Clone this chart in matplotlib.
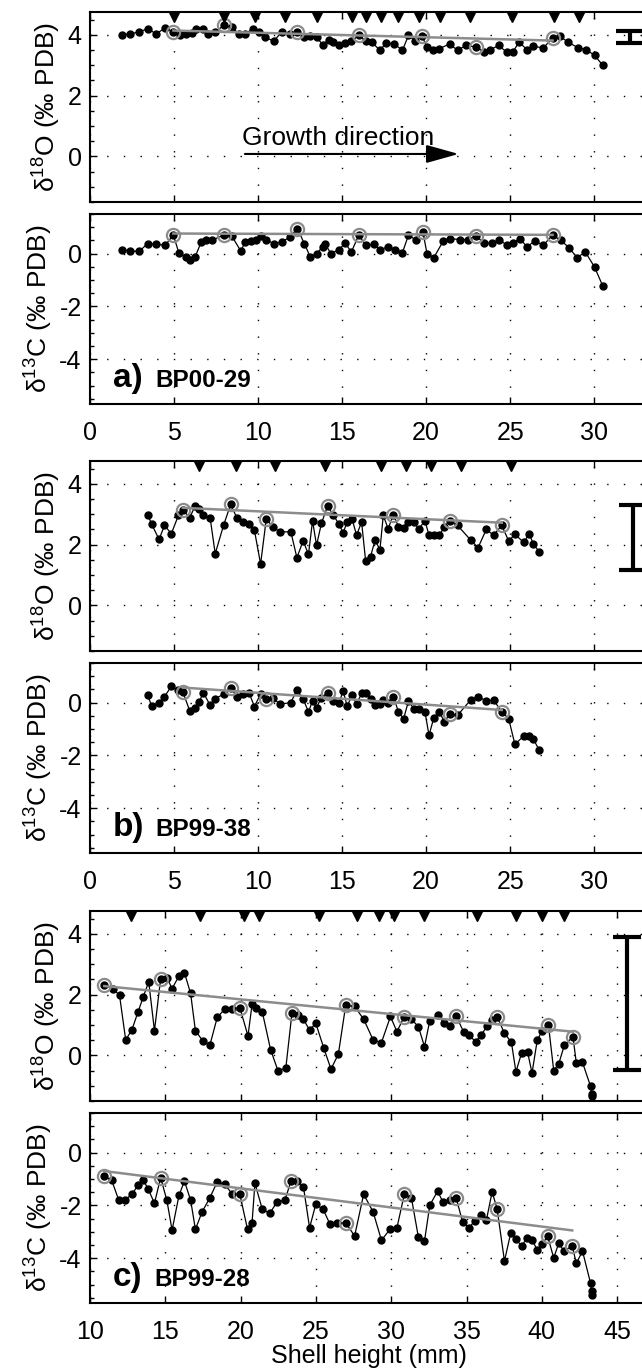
import numpy as np
import matplotlib
matplotlib.use('Agg')
import matplotlib.pyplot as plt
from matplotlib.ticker import MultipleLocator

plt.rcParams['font.family'] = ['Liberation Sans', 'DejaVu Sans']
plt.rcParams['mathtext.fontset'] = 'custom'
plt.rcParams['mathtext.rm'] = 'Liberation Sans'
plt.rcParams['axes.unicode_minus'] = False

# ---- данные: a) BP00-29 ----
a_o_x = [1.92, 2.36, 2.9, 3.43, 3.94, 4.48, 4.96, 5.33, 5.69, 6.06, 6.3, 6.72, 7.03, 7.45, 7.96,
         8.44, 8.86, 9.22, 9.71, 10.07, 10.44, 10.92, 11.41, 11.9, 12.34, 12.75, 13.11, 13.48,
         13.84, 14.21, 14.45, 14.82, 15.18, 15.55, 15.99, 16.4, 16.76, 17.25, 17.62, 18.1, 18.59,
         18.95, 19.32, 19.76, 20.05, 20.41, 20.78, 21.39, 21.87, 22.36, 22.97, 23.45, 23.82, 24.31,
         24.79, 25.16, 25.52, 26.01, 26.38, 26.98, 27.52, 27.96, 28.44, 29.05, 29.54, 30.02, 30.51]
a_o_y = [4.0, 4.03, 4.09, 4.2, 4.03, 4.23, 4.09, 4.0, 4.01, 4.05, 4.2, 4.2, 4.03, 4.09, 4.31,
         4.25, 4.03, 4.03, 4.2, 4.09, 3.92, 3.79, 4.09, 4.03, 4.09, 3.92, 3.95, 3.92,
         3.68, 3.84, 3.76, 3.65, 3.73, 3.79, 3.98, 3.79, 3.76, 3.49, 3.73, 3.7, 3.49,
         3.98, 3.81, 3.95, 3.6, 3.49, 3.54, 3.7, 3.49, 3.65, 3.6, 3.43, 3.51, 3.65,
         3.43, 3.43, 3.76, 3.51, 3.62, 3.57, 3.9, 3.95, 3.76, 3.57, 3.51, 3.32, 3.0]
a_c_x = [1.92, 2.4, 2.94, 3.43, 3.94, 4.48, 4.96, 5.28, 5.69, 5.96, 6.25, 6.62, 6.91, 7.27, 7.96,
         8.44, 8.98, 9.22, 9.59, 9.88, 10.19, 10.49, 10.92, 11.41, 11.9, 12.34, 12.75, 13.11,
         13.48, 13.84, 14.01, 14.33, 14.82, 15.18, 15.55, 15.99, 16.4, 16.89, 17.25, 17.74, 18.17,
         18.59, 18.95, 19.39, 19.81, 20.05, 20.46, 21.02, 21.39, 22.0, 22.48, 22.97, 23.45, 23.94,
         24.36, 24.79, 25.16, 25.57, 26.01, 26.45, 26.98, 27.52, 28.0, 28.49, 28.98, 29.47, 30.02, 30.51]
a_c_y = [0.15, 0.09, 0.09, 0.38, 0.35, 0.32, 0.7, 0.04, -0.13, -0.23, -0.13, 0.44, 0.53, 0.51, 0.7,
         0.66, 0.09, 0.44, 0.48, 0.51, 0.66, 0.53, 0.38, 0.44, 0.63, 0.95, 0.38, -0.13,
         0.0, 0.25, 0.35, 0.0, 0.15, 0.4, 0.06, 0.7, 0.32, 0.35, 0.15, 0.25, 0.15,
         0.04, 0.7, 0.51, 0.82, 0.0, -0.15, 0.48, 0.57, 0.53, 0.53, 0.66, 0.4, 0.4,
         0.53, 0.32, 0.4, 0.57, 0.25, 0.48, 0.32, 0.7, 0.51, 0.23, -0.15, 0.06, -0.51, -1.23]
a_o_circ = [4.96, 7.96, 12.34, 15.99, 19.76, 22.97, 27.52]
a_c_circ = [4.96, 7.96, 12.34, 15.99, 19.81, 22.97, 27.52]
a_o_trend = ([4.96, 27.52], [4.14, 3.81])
a_c_trend = ([4.96, 27.52], [0.76, 0.71])
a_marks = [5.0, 8.0, 9.8, 11.6, 13.5, 15.6, 16.4, 17.3, 18.3, 19.6, 20.8, 22.6, 25.1, 27.6, 29.1]
a_err = (32.1, 3.93, 0.2)

# ---- данные: b) BP99-38 ----
b_x = [3.43, 3.67, 4.11, 4.43, 4.84, 5.26, 5.52, 5.94, 6.25, 6.5, 6.74, 7.15, 7.45, 7.96, 8.37,
       8.73, 9.1, 9.46, 9.78, 10.15, 10.49, 10.88, 11.29, 11.95, 12.31, 12.68, 13.0, 13.24, 13.48,
       13.77, 14.14, 14.45, 14.82, 15.06, 15.3, 15.6, 15.86, 16.16, 16.4, 16.69, 16.96, 17.25,
       17.45, 17.74, 18.05, 18.35, 18.66, 18.95, 19.27, 19.56, 19.93, 20.17, 20.46, 20.78, 21.09,
       21.39, 21.87, 22.65, 23.09, 23.58, 24.01, 24.5, 24.91, 25.28, 25.81, 26.13, 26.38, 26.74]
b_o_y = [2.99, 2.67, 2.17, 2.63, 2.36, 2.96, 3.14, 2.89, 3.27, 3.16, 2.98, 2.87, 1.7, 2.66, 3.32,
         2.89, 2.74, 2.67, 2.48, 1.36, 2.85, 2.58, 2.42, 2.42, 1.57, 2.12, 1.68, 2.78, 1.98,
         2.7, 3.27, 2.99, 2.67, 2.39, 2.74, 2.83, 2.31, 2.74, 1.46, 1.6, 2.15, 1.83,
         2.96, 2.52, 2.99, 2.59, 2.56, 2.74, 2.74, 2.52, 2.78, 2.31, 2.31, 2.31, 2.59,
         2.78, 2.63, 2.15, 1.9, 2.5, 2.31, 2.63, 2.12, 2.34, 2.07, 2.36, 2.01, 1.76]
b_c_y = [0.28, -0.13, 0.0, 0.23, 0.61, 0.48, 0.41, -0.32, -0.19, 0.03, 0.38, -0.1, 0.15, 0.32, 0.57,
         0.23, 0.32, 0.38, -0.15, 0.32, 0.15, 0.19, -0.06, 0.0, 0.48, 0.13, -0.35, 0.06, -0.19,
         0.19, 0.38, 0.06, 0.0, 0.44, -0.13, 0.28, -0.06, 0.35, 0.38, 0.13, -0.1, -0.06,
         0.1, 0.0, 0.23, -0.35, -0.61, 0.06, -0.23, -0.23, -0.35, -1.24, -0.57, -0.35, -0.73,
         -0.44, -0.48, 0.1, 0.23, 0.06, 0.1, -0.35, -0.61, -1.58, -1.27, -1.27, -1.39, -1.81]
b_circ = [5.52, 8.37, 10.49, 14.14, 18.05, 21.39, 24.5]
b_o_trend = ([5.52, 24.5], [3.21, 2.72])
b_c_trend = ([5.52, 24.5], [0.57, -0.28])
b_marks = [6.5, 8.7, 11.0, 14.0, 17.3, 18.8, 20.3, 22.1, 25.05]
b_err = (32.3, 2.23, 1.07)

# ---- данные: c) BP99-28 ----
c_o_x = [10.95, 11.5, 11.96, 12.37, 12.78, 13.19, 13.54, 13.9, 14.28, 14.69, 15.1, 15.45, 15.91,
         16.27, 16.68, 17.0, 17.49, 17.96, 18.45, 18.94, 19.46, 19.95, 20.49, 20.76, 21.04, 21.44,
         21.99, 22.48, 23.0, 23.41, 23.81, 24.17, 24.58, 24.99, 25.53, 26.0, 26.49, 26.98, 27.57,
         28.17, 28.8, 29.35, 29.95, 30.38, 30.84, 31.34, 31.8, 32.21, 32.56, 33.08, 33.49, 33.9,
         34.31, 34.8, 35.15, 35.61, 35.97, 36.38, 36.7, 37.03, 37.52, 37.98, 38.28, 38.66, 39.05,
         39.35, 39.7, 40.03, 40.44, 40.79, 41.12, 41.5, 42.07, 42.29, 42.7, 43.24, 43.3, 43.32]
c_o_y = [2.31, 2.2, 1.98, 0.51, 0.84, 1.43, 1.93, 2.42, 0.81, 2.52, 2.56, 2.2, 2.61,
         2.72, 2.04, 0.81, 0.48, 0.34, 1.25, 1.52, 1.54, 1.57, 0.64, 1.68, 1.57, 1.43,
         0.19, -0.5, -0.42, 1.39, 1.32, 1.19, 0.83, 1.06, 0.23, -0.45, 0.04, 1.65, 1.61,
         1.19, 0.51, 0.42, 1.28, 0.78, 1.25, 1.19, 0.95, 0.29, 1.14, 1.32, 1.08, 0.97,
         1.3, 0.78, 0.67, 0.45, 0.67, 0.97, 1.17, 1.27, 0.73, 0.43, -0.54, 0.08, 0.12,
         -0.58, 0.51, 0.81, 1.0, -0.5, -0.28, 0.34, 0.61, -0.25, -0.23, -1.02, -1.27, -1.35]
c_c_x = [10.95, 11.44, 11.91, 12.32, 12.78, 13.19, 13.54, 13.87, 14.28, 14.69, 15.1, 15.45, 15.91,
         16.27, 16.68, 17.0, 17.44, 17.96, 18.45, 18.94, 19.46, 19.95, 20.46, 20.76, 20.95, 21.44,
         21.93, 22.43, 22.94, 23.35, 23.76, 24.17, 24.58, 24.99, 25.48, 25.94, 26.4, 26.98, 27.57,
         28.17, 28.8, 29.35, 29.95, 30.38, 30.87, 31.34, 31.8, 32.21, 32.56, 33.08, 33.43, 33.9,
         34.31, 34.74, 35.15, 35.56, 35.97, 36.32, 36.7, 37.03, 37.52, 37.93, 38.28, 38.66, 39.02,
         39.37, 39.7, 40.03, 40.38, 40.79, 41.12, 41.47, 42.02, 42.29, 42.7, 43.24, 43.3, 43.32]
c_c_y = [-0.89, -1.05, -1.8, -1.8, -1.58, -1.24, -1.04, -1.39, -1.92, -0.95, -1.8, -2.94, -1.62,
         -1.08, -1.8, -2.91, -2.25, -1.71, -1.11, -1.2, -1.58, -1.58, -2.91, -2.66, -1.16, -2.15,
         -2.3, -1.87, -1.8, -1.08, -1.08, -1.29, -2.85, -1.96, -2.15, -2.72, -2.68, -2.66, -3.16,
         -1.58, -2.25, -3.32, -2.89, -2.85, -1.58, -1.71, -3.19, -3.35, -2.0, -1.46, -1.87, -1.8,
         -1.71, -2.63, -2.85, -2.59, -2.38, -2.56, -1.49, -2.13, -4.11, -3.06, -3.29, -3.54, -3.23,
         -3.32, -3.7, -3.48, -3.16, -3.99, -3.44, -3.73, -3.54, -4.2, -3.73, -4.96, -5.25, -5.38]
c_o_circ = [10.95, 14.69, 19.95, 23.41, 26.98, 30.84, 34.31, 37.03, 40.44, 42.07]
c_c_circ = [10.95, 14.69, 19.95, 23.35, 26.98, 30.87, 34.31, 37.03, 40.38, 42.02]
c_o_trend = ([10.95, 42.07], [2.28, 0.78])
c_c_trend = ([10.95, 42.02], [-0.70, -2.95])
c_marks = [12.7, 17.3, 20.2, 21.2, 25.2, 27.75, 29.2, 30.2, 32.2, 35.7, 38.3, 40.0, 41.5]
c_err = (45.66, 1.70, 2.18)

W, H = 642, 1372
GRAY = '#8c8c8c'
O_LIM = (-1.5, 4.75)
C_LIM = (-5.7, 1.5)

fig = plt.figure(figsize=(W / 100, H / 100), dpi=100)


def make_ax(top_px, xlim, ylim, yticks, labels_x):
    # оси шириной 558 px начиная с 90 px, правый край чуть за границей картинки
    ax = fig.add_axes([90 / W, 1 - (top_px + 190) / H, 558 / W, 190 / H])
    ax.set_xlim(*xlim)
    ax.set_ylim(*ylim)
    ax.set_yticks(yticks)
    ax.xaxis.set_major_locator(MultipleLocator(5))
    ax.yaxis.set_minor_locator(MultipleLocator(0.5))
    ax.tick_params(which='both', direction='in', top=True, right=True,
                   labelsize=18, width=1.0)
    ax.tick_params(axis='y', pad=6)
    ax.tick_params(axis='x', pad=12)
    ax.tick_params(which='major', length=5)
    ax.tick_params(which='minor', length=3)
    ax.grid(True, which='major', color='k', linestyle=(0, (1, 11)), linewidth=1.0)
    ax.set_axisbelow(True)
    for s in ax.spines.values():
        s.set_linewidth(1.5)
    if not labels_x:
        ax.tick_params(labelbottom=False)
    return ax


def draw_series(ax, x, y, circ, trend):
    x = np.array(x)
    y = np.array(y)
    ax.plot(x, y, '-o', color='k', lw=0.9, ms=5, zorder=3)
    idx = [int(np.argmin(np.abs(x - c))) for c in circ]
    ax.plot(x[idx], y[idx], 'o', mfc='none', mec=GRAY, ms=9.5, mew=1.6, zorder=4)
    ax.plot(trend[0], trend[1], color=GRAY, lw=1.8, zorder=5)


def draw_marks(ax, marks):
    ax.plot(marks, [0.976] * len(marks), 'v', color='k', ms=7.5,
            transform=ax.get_xaxis_transform(), clip_on=False, zorder=6)


def draw_err(ax, err):
    ax.errorbar([err[0]], [err[1]], yerr=[err[2]], fmt='none', ecolor='k',
                elinewidth=3, capsize=10, capthick=3, zorder=6)


panels = [
    (12, (0, 33.2), a_o_x, a_o_y, a_o_circ, a_o_trend, a_c_x, a_c_y, a_c_circ, a_c_trend,
     a_marks, a_err, 'a)', 'BP00-29', (1.37, 3.87)),
    (461, (0, 33.2), b_x, b_o_y, b_circ, b_o_trend, b_x, b_c_y, b_circ, b_c_trend,
     b_marks, b_err, 'b)', 'BP99-38', (1.37, 3.87)),
    (911, (10, 47.05), c_o_x, c_o_y, c_o_circ, c_o_trend, c_c_x, c_c_y, c_c_circ, c_c_trend,
     c_marks, c_err, 'c)', 'BP99-28', (11.5, 14.3)),
]

for (top, xlim, ox, oy, ocirc, otr, cx, cy, ccirc, ctr, marks, err, letter, name, lpos) in panels:
    ax_o = make_ax(top, xlim, O_LIM, [0, 2, 4], False)
    draw_series(ax_o, ox, oy, ocirc, otr)
    draw_marks(ax_o, marks)
    draw_err(ax_o, err)
    ax_o.set_ylabel('δ$^{18}$O (‰ PDB)', fontsize=19, labelpad=4)

    ax_c = make_ax(top + 202, xlim, C_LIM, [-4, -2, 0], True)
    draw_series(ax_c, cx, cy, ccirc, ctr)
    ax_c.set_ylabel('δ$^{13}$C (‰ PDB)', fontsize=19, labelpad=4)
    # подпись образца: буква крупно, номер помельче
    tr = ax_c.get_xaxis_transform()
    ax_c.text(lpos[0], 0.09, letter, fontsize=24, fontweight='bold', transform=tr)
    ax_c.text(lpos[1], 0.09, name, fontsize=17.5, fontweight='bold', transform=tr)

    if letter == 'a)':
        ax_o.text(9.05, 0.39, 'Growth direction', fontsize=19)
        ax_o.annotate('', xy=(22.1, 0.08), xytext=(9.05, 0.08),
                      arrowprops=dict(arrowstyle='-|>,head_length=1.0,head_width=0.28',
                                      mutation_scale=20, lw=1.5, color='k'))
    if letter == 'c)':
        ax_c.set_xlabel('Shell height (mm)', fontsize=18, labelpad=0)

fig.savefig('out.png', dpi=100)
